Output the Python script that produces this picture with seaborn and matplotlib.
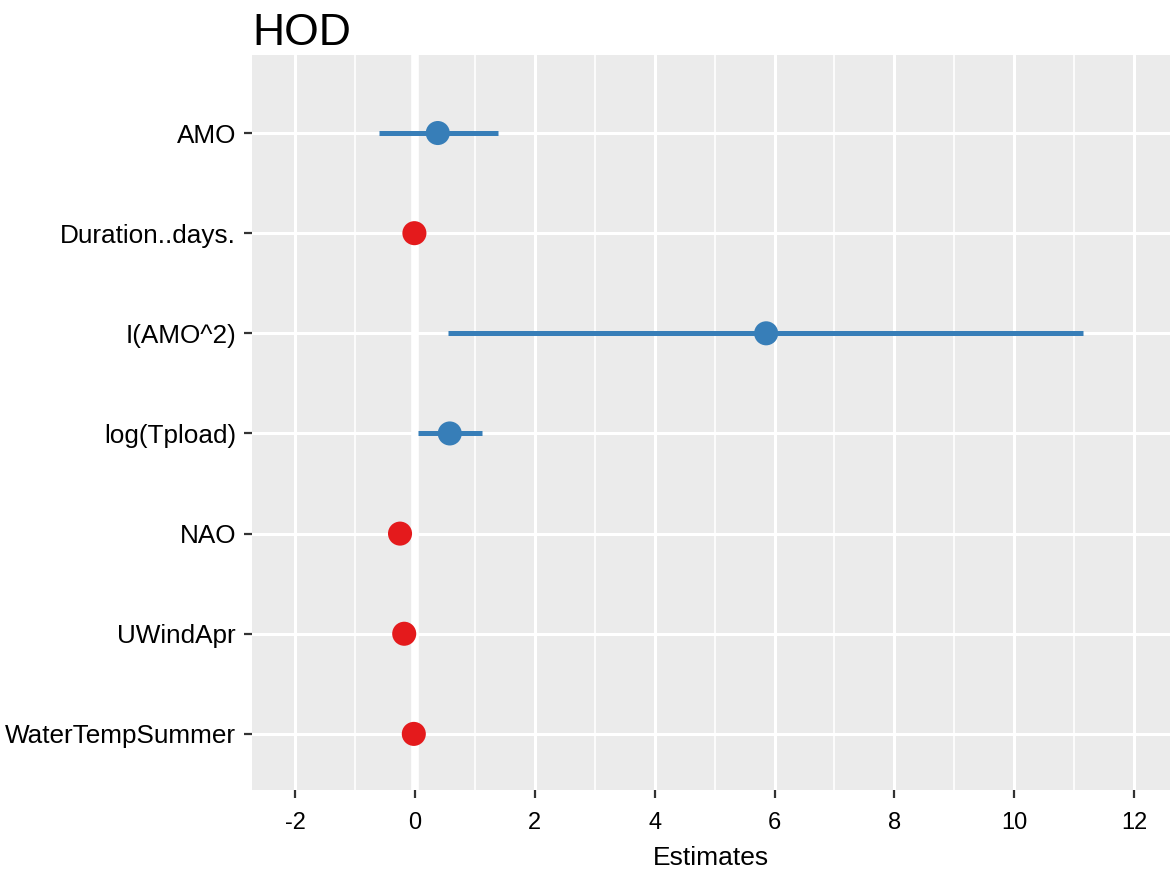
import numpy as np
import pandas as pd
import matplotlib
matplotlib.use("Agg")
import matplotlib.pyplot as plt
import seaborn as sns

# model terms, top to bottom
terms = ["AMO", "Duration..days.", "I(AMO^2)", "log(Tpload)",
         "NAO", "UWindApr", "WaterTempSummer"]
estimates = [0.38, -0.01, 5.86, 0.58, -0.25, -0.18, -0.02]
conf_low = [-0.60, -0.01, 0.55, 0.05, -0.25, -0.18, -0.02]
conf_high = [1.38, -0.01, 11.15, 1.12, -0.25, -0.18, -0.02]
group = ["pos", "neg", "pos", "pos", "neg", "neg", "neg"]

x_ticks = [-2, 0, 2, 4, 6, 8, 10, 12]

colors = {"pos": "#377EB8", "neg": "#E41A1C"}

df = pd.DataFrame({
    "term": terms,
    "estimate": estimates,
    "conf.low": conf_low,
    "conf.high": conf_high,
    "group": group
})

sns.set_theme(style="darkgrid")
plt.rcParams["font.family"] = ["Liberation Sans", "DejaVu Sans"]

fig = plt.figure(figsize=(11.7, 8.73), dpi=100)
ax = fig.add_axes([0.2154, 0.0951, 0.7846, 0.842])

ax.set_facecolor("#EBEBEB")

# grid
for v in np.arange(-3, 14, 2):
    ax.axvline(v, color="white", linewidth=1.2, zorder=0)
for v in x_ticks:
    ax.axvline(v, color="white", linewidth=2.2, zorder=0)
for i in range(len(terms)):
    ax.axhline(i, color="white", linewidth=2.2, zorder=0)
ax.axvline(0, color="white", linewidth=5.5, zorder=0.5)

# confidence intervals
for i, row in df.iterrows():
    ax.plot([row["conf.low"], row["conf.high"]], [i, i],
            color=colors[row["group"]], linewidth=3.6,
            solid_capstyle="butt", zorder=2)

sns.scatterplot(
    data=df,
    x="estimate",
    y="term",
    hue="group",
    palette=colors,
    s=300,
    linewidth=0,
    legend=False,
    zorder=3,
    ax=ax
)

ax.grid(False)
ax.set_xlim(-2.72, 12.6)
ax.set_ylim(6.56, -0.78)
ax.set_xticks(x_ticks)
ax.set_xticklabels([str(v) for v in x_ticks])
ax.set_yticks(range(len(terms)))
ax.set_yticklabels(terms)

ax.tick_params(axis="both", which="major", length=5.5, width=1.6,
               color="#333333", labelcolor="black", left=True, bottom=True)
ax.tick_params(axis="y", labelsize=18.8, pad=6)
ax.tick_params(axis="x", labelsize=17, pad=10)

for s in ax.spines.values():
    s.set_visible(False)

ax.set_ylabel("")
ax.set_xlabel("Estimates", fontsize=19, color="black", labelpad=9)
ax.set_title("HOD", loc="left", fontsize=32, color="black", pad=7)

plt.savefig("out.png", dpi=100)
